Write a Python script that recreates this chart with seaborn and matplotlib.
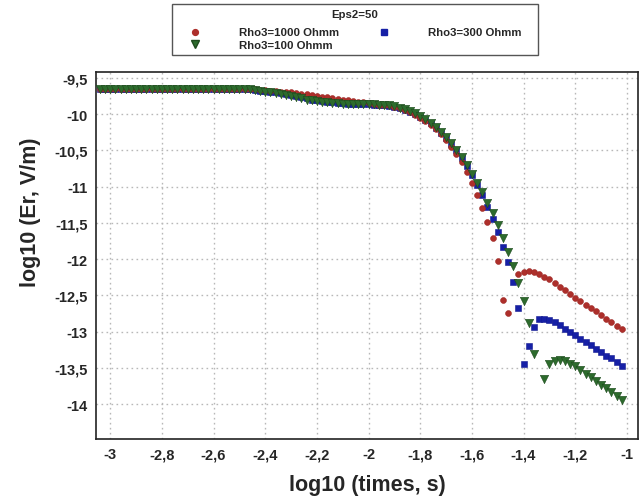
import numpy as np
import pandas as pd
import matplotlib
matplotlib.use("Agg")
import matplotlib.pyplot as plt
import seaborn as sns
from matplotlib.lines import Line2D
from matplotlib.patches import Rectangle
from matplotlib.ticker import FixedLocator, FixedFormatter, MultipleLocator

# log10 of time (s)
log_time = [
    -3.04, -3.02, -3.00, -2.98, -2.96, -2.94, -2.92, -2.90, -2.88, -2.86,
    -2.84, -2.82, -2.80, -2.78, -2.76, -2.74, -2.72, -2.70, -2.68, -2.66,
    -2.64, -2.62, -2.60, -2.58, -2.56, -2.54, -2.52, -2.50,
    -2.48, -2.46, -2.44, -2.42, -2.40, -2.38, -2.36, -2.34, -2.32, -2.30,
    -2.28, -2.26, -2.24, -2.22, -2.20, -2.18, -2.16, -2.14, -2.12, -2.10,
    -2.08, -2.06, -2.04, -2.02, -2.00, -1.98, -1.96, -1.94, -1.92, -1.90,
    -1.88, -1.86, -1.84, -1.82, -1.80, -1.78, -1.76, -1.74, -1.72, -1.70,
    -1.68, -1.66, -1.64, -1.62, -1.60, -1.58, -1.56, -1.54, -1.52, -1.50,
    -1.48, -1.46, -1.44, -1.42, -1.40, -1.38, -1.36, -1.34, -1.32, -1.30,
    -1.28, -1.26, -1.24, -1.22, -1.20, -1.18, -1.16, -1.14, -1.12, -1.10,
    -1.08, -1.06, -1.04, -1.02,
]

early = [-9.65] * 28  # early-time plateau, identical for all three models

# log10(Er, V/m) for Rho3 = 1000 Ohmm
er_rho1000 = early + [
    -9.65, -9.66, -9.66, -9.67, -9.67, -9.68, -9.68, -9.69, -9.69, -9.70,
    -9.71, -9.72, -9.73, -9.74, -9.75, -9.76, -9.77, -9.78, -9.79, -9.80,
    -9.81, -9.82, -9.83, -9.84, -9.85, -9.86, -9.87, -9.87, -9.88, -9.90,
    -9.92, -9.94, -9.97, -10.01, -10.05, -10.10, -10.15, -10.21, -10.28, -10.36,
    -10.45, -10.55, -10.66, -10.80, -10.95, -11.12, -11.29, -11.49, -11.71, -12.02,
    -12.56, -12.74, np.nan, -12.21, -12.18, -12.16, -12.18, -12.21, -12.24, -12.28,
    -12.33, -12.38, -12.43, -12.48, -12.53, -12.58, -12.63, -12.67, -12.72, -12.77,
    -12.82, -12.87, -12.92, -12.97,
]

# log10(Er, V/m) for Rho3 = 300 Ohmm
er_rho300 = early + [
    -9.66, -9.66, -9.67, -9.68, -9.68, -9.69, -9.70, -9.71, -9.73, -9.74,
    -9.75, -9.77, -9.78, -9.80, -9.81, -9.82, -9.83, -9.84, -9.85, -9.85,
    -9.86, -9.86, -9.86, -9.86, -9.86, -9.87, -9.87, -9.88, -9.89, -9.90,
    -9.92, -9.94, -9.97, -10.00, -10.04, -10.08, -10.13, -10.19, -10.26, -10.33,
    -10.41, -10.50, -10.60, -10.71, -10.84, -10.98, -11.12, -11.28, -11.44, -11.62,
    -11.83, -12.04, -12.32, -12.67, -13.44, -13.20, -12.93, -12.83, -12.82, -12.84,
    -12.87, -12.91, -12.96, -13.01, -13.05, -13.10, -13.14, -13.19, -13.24, -13.28,
    -13.33, -13.37, -13.42, -13.47,
]

# log10(Er, V/m) for Rho3 = 100 Ohmm
er_rho100 = early + [
    -9.66, -9.66, -9.67, -9.68, -9.69, -9.70, -9.71, -9.72, -9.74, -9.75,
    -9.77, -9.78, -9.80, -9.81, -9.82, -9.83, -9.84, -9.85, -9.85, -9.86,
    -9.86, -9.86, -9.86, -9.86, -9.86, -9.86, -9.87, -9.87, -9.88, -9.89,
    -9.91, -9.93, -9.96, -9.99, -10.03, -10.07, -10.12, -10.18, -10.25, -10.32,
    -10.40, -10.49, -10.59, -10.70, -10.82, -10.95, -11.08, -11.22, -11.37, -11.53,
    -11.71, -11.90, -12.10, -12.33, -12.58, -12.88, -13.31, np.nan, -13.65, -13.45,
    -13.40, -13.39, -13.41, -13.44, -13.48, -13.53, -13.58, -13.63, -13.68, -13.73,
    -13.78, -13.83, -13.89, -13.94,
]

series_labels = ["Rho3=1000 Ohmm", "Rho3=300 Ohmm", "Rho3=100 Ohmm"]
legend_title = "Eps2=50"

x_ticks = [-3.0, -2.8, -2.6, -2.4, -2.2, -2.0, -1.8, -1.6, -1.4, -1.2, -1.0]
x_tick_labels = ["-3", "-2,8", "-2,6", "-2,4", "-2,2", "-2", "-1,8", "-1,6", "-1,4", "-1,2", "-1"]
y_ticks = [-9.5, -10.0, -10.5, -11.0, -11.5, -12.0, -12.5, -13.0, -13.5, -14.0]
y_tick_labels = ["-9,5", "-10", "-10,5", "-11", "-11,5", "-12", "-12,5", "-13", "-13,5", "-14"]

df = pd.DataFrame({
    "t": log_time * 3,
    "er": er_rho1000 + er_rho300 + er_rho100,
    "model": [series_labels[0]] * len(log_time)
    + [series_labels[1]] * len(log_time)
    + [series_labels[2]] * len(log_time),
})

sns.set_theme(style="white")
plt.rcParams["font.family"] = ["Liberation Sans", "DejaVu Sans"]

colors = {series_labels[0]: "#ad2f2b", series_labels[1]: "#1620a6", series_labels[2]: "#2d6b2d"}
markers = {series_labels[0]: "o", series_labels[1]: "s", series_labels[2]: "v"}
sizes = {series_labels[0]: 18, series_labels[1]: 18, series_labels[2]: 36}
edges = {series_labels[0]: "#a02a26", series_labels[1]: "#121a90", series_labels[2]: "#1d4a1d"}
draw_order = [series_labels[1], series_labels[0], series_labels[2]]

fig = plt.figure(figsize=(6.44, 5.02), dpi=100)
ax = fig.add_axes([96 / 644, 1 - 440 / 502, (638 - 96) / 644, (440 - 73) / 502])

for z, name in enumerate(draw_order):
    sub = df[df["model"] == name].dropna()
    sns.scatterplot(
        data=sub, x="t", y="er", ax=ax, color=colors[name], marker=markers[name],
        s=sizes[name], edgecolor=edges[name], linewidth=0.4, legend=False, zorder=3 + z,
    )

ax.set_xlim(-3.055, -0.957)
ax.set_ylim(-14.48, -9.42)
ax.xaxis.set_major_locator(FixedLocator(x_ticks))
ax.xaxis.set_major_formatter(FixedFormatter(x_tick_labels))
ax.yaxis.set_major_locator(FixedLocator(y_ticks))
ax.yaxis.set_major_formatter(FixedFormatter(y_tick_labels))
ax.xaxis.set_minor_locator(MultipleLocator(0.02))

ax.grid(True, which="major", color="#b8b8b8", linestyle=(0, (1.2, 2.4)), linewidth=1.0)
ax.tick_params(axis="both", which="major", direction="out", length=3, width=0.8,
               labelsize=10.5, color="#999999", pad=3)
ax.tick_params(axis="x", which="minor", direction="in", length=2.5, width=0.6, color="#555555")
for lab in ax.get_xticklabels() + ax.get_yticklabels():
    lab.set_fontweight("bold")
for sp in ax.spines.values():
    sp.set_color("#222222")
    sp.set_linewidth(1.2)
    sp.set_visible(True)

ax.set_xlabel("log10 (times, s)", fontsize=15.5, fontweight="bold", labelpad=9)
ax.set_ylabel("log10 (Er, V/m)", fontsize=15.5, fontweight="bold")
ax.yaxis.set_label_coords(-0.102, 0.62)

# legend: frame and title drawn in figure pixels, entries via a legend
W, H = 644, 502
fig.patches.append(Rectangle((172 / W, 1 - 56 / H), (538 - 172) / W, (56 - 5) / H,
                             transform=fig.transFigure, facecolor="white",
                             edgecolor="#555555", linewidth=1.0, zorder=1))
fig.text(355 / W, 1 - 15 / H, legend_title, ha="center", va="center",
         fontsize=8.2, fontweight="bold", zorder=3)

handles = [
    Line2D([], [], ls="", marker="o", markersize=4.2, color=colors[series_labels[0]]),
    Line2D([], [], ls="", marker="v", markersize=5.5, color=colors[series_labels[2]],
           markeredgecolor=edges[series_labels[2]]),
    Line2D([], [], ls="", marker="s", markersize=4.0, color=colors[series_labels[1]]),
]
leg = fig.legend(
    handles, [series_labels[0], series_labels[2], series_labels[1]],
    ncol=2, loc="upper left", bbox_to_anchor=(186.7 / W, 1 - 28.5 / H),
    prop={"weight": "bold", "size": 8.2},
    frameon=False, handlelength=1.5, handletextpad=3.1, columnspacing=3.2,
    borderpad=0.0, borderaxespad=0.0, labelspacing=0.2,
)
leg.set_zorder(3)

fig.savefig("out.png", dpi=100)
